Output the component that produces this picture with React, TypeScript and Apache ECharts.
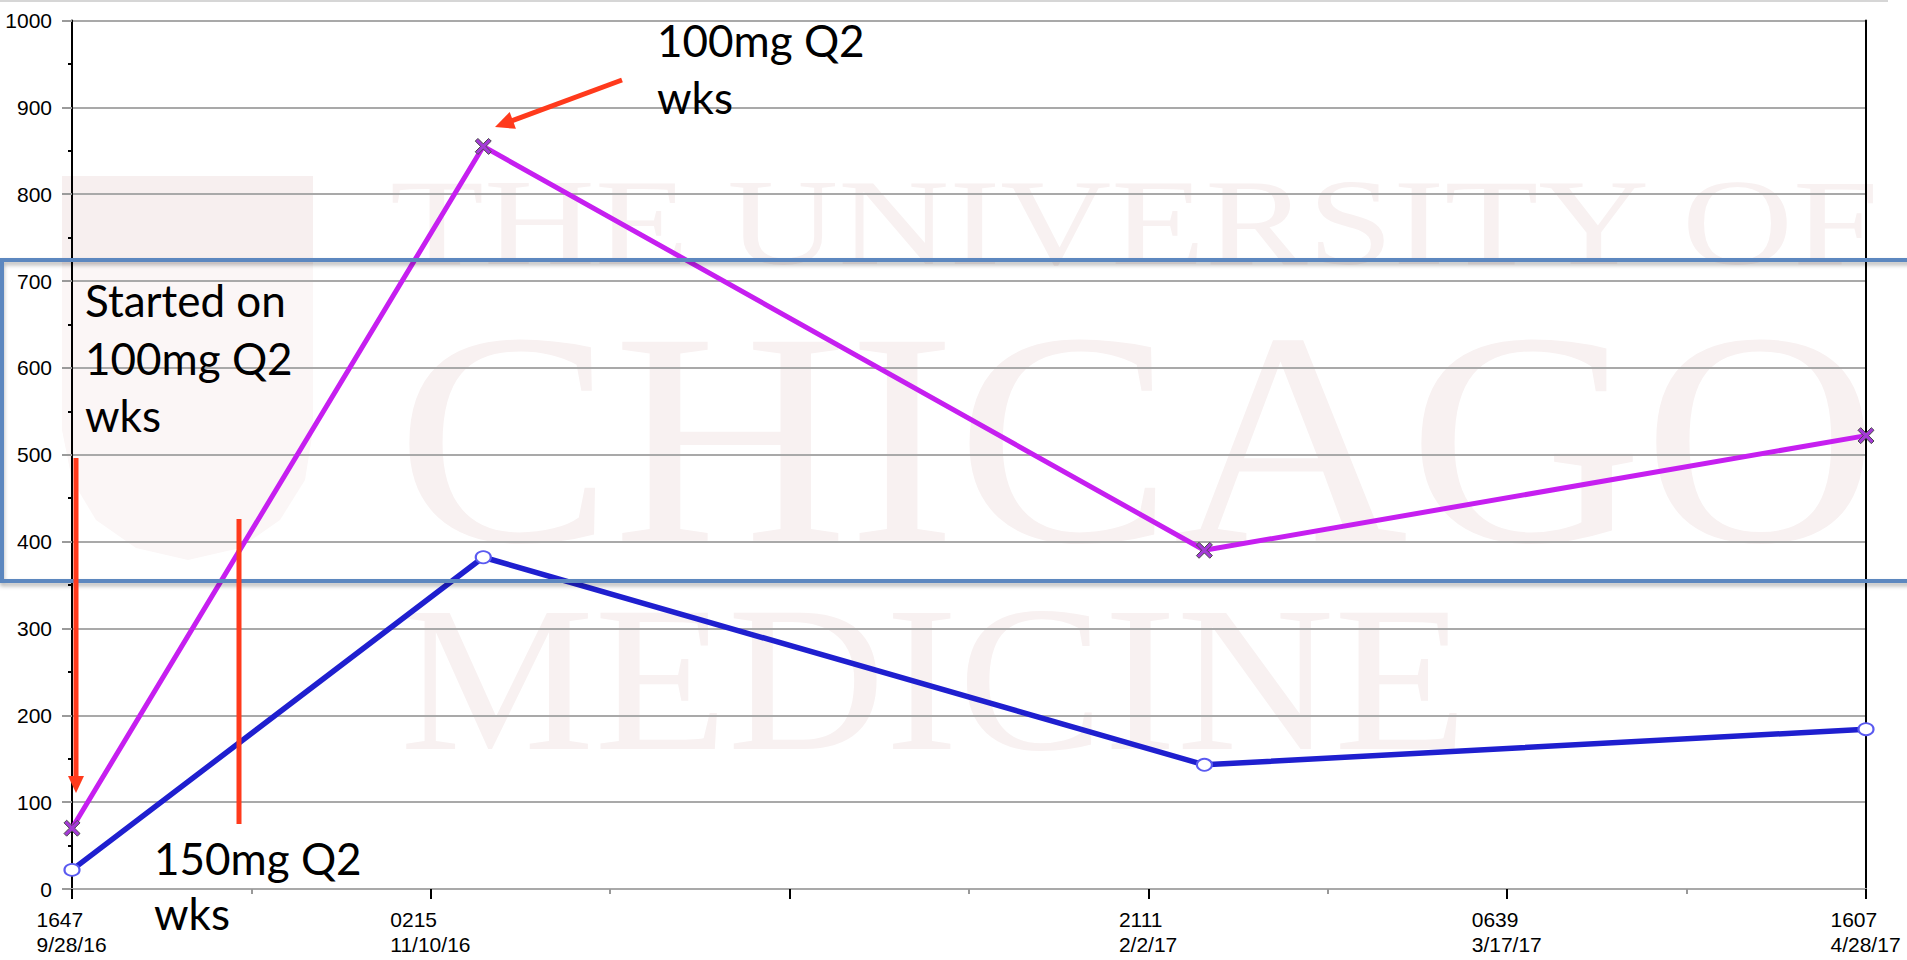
import React, { useEffect, useRef } from "react";
import * as echarts from "echarts";

// ---- data ----
const axisStart = "2016-09-28T16:47:00Z";
const axisEnd = "2017-04-28T16:07:00Z";
const sampleTimes = [
  "2016-09-28T16:47:00Z",
  "2016-11-16T07:00:00Z",
  "2017-02-09T12:00:00Z",
  "2017-04-28T16:07:00Z",
];
const purpleValues = [70, 855, 390, 522];
const blueValues = [22, 382, 143, 184];
const xTickTimes = ["1647", "0215", "", "2111", "0639", "1607"];
const xTickDates = ["9/28/16", "11/10/16", "", "2/2/17", "3/17/17", "4/28/17"];
const yMin = 0;
const yMax = 1000;
const yStep = 100;
const xSegments = 5;

const toMinutes = (s: string) => (Date.parse(s) - Date.parse(axisStart)) / 60000;

const AXIS_FONT = '"Liberation Sans", Arial, sans-serif';
const AXIS_SIZE = 21;
const NOTE_FONT = 'Lato, "Open Sans", sans-serif';
const WM_FONT = '"Liberation Serif", "DejaVu Serif", serif';
const RED = "#ff3a1c";
const WM = "#f8f1f1";

export default function App() {
  const ref = useRef<HTMLDivElement>(null);

  useEffect(() => {
    if (!ref.current) return;
    const chart = echarts.init(ref.current, undefined, { renderer: "svg" });

    const xMax = toMinutes(axisEnd);
    const xInterval = xMax / xSegments;

    const canvas = document.createElement("canvas");
    const ctx = canvas.getContext("2d")!;
    ctx.font = `${AXIS_SIZE}px ${AXIS_FONT}`;
    const rich: Record<string, any> = {};
    xTickTimes.forEach((t, i) => {
      const w = Math.ceil(Math.max(ctx.measureText(t).width, ctx.measureText(xTickDates[i]).width));
      rich["l" + i] = {
        width: w,
        align: "left",
        fontSize: AXIS_SIZE,
        lineHeight: 25,
        fontFamily: AXIS_FONT,
        color: "#000",
      };
    });

    const purpleData = sampleTimes.map((t, i) => [toMinutes(t), purpleValues[i]]);
    const blueData = sampleTimes.map((t, i) => [toMinutes(t), blueValues[i]]);

    const xPath =
      "path://M2,0 L6,4 L10,0 L12,2 L8,6 L12,10 L10,12 L6,8 L2,12 L0,10 L4,6 L0,2 Z";

    const arrowTip = [495, 127];
    const arrowStart = [622, 80];
    const dx = arrowTip[0] - arrowStart[0];
    const dy = arrowTip[1] - arrowStart[1];
    const len = Math.hypot(dx, dy);
    const ux = dx / len;
    const uy = dy / len;
    const headL = 19;
    const headW = 9;
    const bx = arrowTip[0] - ux * headL;
    const by = arrowTip[1] - uy * headL;

    const noteText = (text: string, x: number, y: number) => ({
      type: "text",
      x,
      y,
      z: 200,
      style: {
        text,
        fontFamily: NOTE_FONT,
        fontSize: 44,
        fill: "#000",
        align: "left",
        verticalAlign: "middle",
      },
    });

    const wmText = (text: string, x: number, y: number, size: number, sx: number) => ({
      type: "text",
      x,
      y,
      scaleX: sx,
      z: -10,
      silent: true,
      style: {
        text,
        fontFamily: WM_FONT,
        fontSize: size,
        fill: WM,
        align: "left",
        verticalAlign: "middle",
      },
    });

    chart.setOption({
      animation: false,
      backgroundColor: "#fff",
      grid: { left: 72, right: 41, top: 20.5, bottom: 71, containLabel: false },
      xAxis: {
        type: "value",
        min: 0,
        max: xMax,
        interval: xInterval,
        axisLine: { show: true, onZero: false, lineStyle: { color: "#a9a9a9", width: 2 } },
        axisTick: { show: true, length: 10, lineStyle: { color: "#000", width: 2 } },
        minorTick: { show: true, splitNumber: 2, length: 5, lineStyle: { color: "#999", width: 2 } },
        splitLine: { show: false },
        axisLabel: {
          margin: 18,
          showMinLabel: true,
          showMaxLabel: true,
          formatter: (val: number) => {
            const i = Math.round(val / xInterval);
            if (!xTickTimes[i]) return "";
            return `{l${i}|${xTickTimes[i]}}\n{l${i}|${xTickDates[i]}}`;
          },
          rich,
        },
      },
      yAxis: [
        {
          type: "value",
          min: yMin,
          max: yMax,
          interval: yStep,
          position: "left",
          axisLine: { show: true, lineStyle: { color: "#000", width: 2 } },
          axisTick: { show: true, length: 10, lineStyle: { color: "#9a9a9a", width: 2 } },
          minorTick: { show: true, splitNumber: 2, length: 4, lineStyle: { color: "#000", width: 2 } },
          splitLine: { show: true, lineStyle: { color: "#a9a9a9", width: 2 } },
          axisLabel: {
            margin: 20,
            fontSize: AXIS_SIZE,
            fontFamily: AXIS_FONT,
            color: "#000",
            formatter: (v: number) => String(v),
          },
        },
        {
          type: "value",
          min: yMin,
          max: yMax,
          interval: yStep,
          position: "right",
          axisLine: { show: true, lineStyle: { color: "#000", width: 2 } },
          axisTick: { show: false },
          axisLabel: { show: false },
          splitLine: { show: false },
        },
      ],
      series: [
        {
          type: "line",
          data: purpleData,
          z: 3,
          lineStyle: { color: "#c61ff0", width: 5 },
          symbol: xPath,
          symbolSize: 16,
          itemStyle: { color: "#a43bd6", borderColor: "#4a4a4a", borderWidth: 1 },
        },
        {
          type: "line",
          data: blueData,
          z: 4,
          lineStyle: { color: "#1f1fcf", width: 5.5 },
          symbol: "emptyCircle",
          symbolSize: [15, 12],
          itemStyle: { color: "#5a5af0", borderWidth: 2 },
        },
      ],
      graphic: [
        {
          type: "polygon",
          z: -11,
          silent: true,
          shape: {
            points: [
              [62, 176], [313, 176], [313, 430], [305, 480], [280, 520], [240, 548],
              [188, 560], [136, 548], [96, 520], [72, 480], [62, 430],
            ],
          },
          style: { fill: "#fbf6f6" },
        },
        {
          type: "rect",
          z: -10,
          silent: true,
          shape: { x: 62, y: 176, width: 251, height: 88 },
          style: { fill: "#f7efef" },
        },
        wmText("THE UNIVERSITY OF", 390, 223, 122, 1.26),
        wmText("CHICAGO", 396, 438, 304, 1.07),
        wmText("MEDICINE", 400, 679, 208, 1.05),
        {
          type: "line",
          z: 5,
          shape: { x1: 0, y1: 1, x2: 1888, y2: 1 },
          style: { stroke: "#d6d6d6", lineWidth: 2 },
        },
        {
          type: "rect",
          z: 150,
          shape: { x: 2, y: 260, width: 1960, height: 321 },
          style: {
            fill: "transparent",
            stroke: "#5b87bf",
            lineWidth: 4,
            shadowBlur: 4,
            shadowOffsetY: 3,
            shadowColor: "rgba(0,0,0,0.3)",
          },
        },
        {
          type: "line",
          z: 160,
          shape: { x1: 76, y1: 458, x2: 76, y2: 778 },
          style: { stroke: RED, lineWidth: 5 },
        },
        {
          type: "polygon",
          z: 160,
          shape: { points: [[68, 776], [84, 776], [76, 793]] },
          style: { fill: RED },
        },
        {
          type: "line",
          z: 160,
          shape: { x1: 239, y1: 519, x2: 239, y2: 824 },
          style: { stroke: RED, lineWidth: 5 },
        },
        {
          type: "line",
          z: 160,
          shape: { x1: arrowStart[0], y1: arrowStart[1], x2: bx + ux * 2, y2: by + uy * 2 },
          style: { stroke: RED, lineWidth: 5 },
        },
        {
          type: "polygon",
          z: 160,
          shape: {
            points: [
              arrowTip,
              [bx - uy * headW, by + ux * headW],
              [bx + uy * headW, by - ux * headW],
            ],
          },
          style: { fill: RED },
        },
        noteText("Started on", 85, 300),
        noteText("100mg Q2", 85, 358),
        noteText("wks", 85, 415),
        noteText("100mg Q2", 657, 40),
        noteText("wks", 657, 97),
        noteText("150mg Q2", 154, 858),
        noteText("wks", 154, 913),
      ],
    });

    return () => chart.dispose();
  }, []);

  return (
    <div
      ref={ref}
      style={{ position: "fixed", left: 0, top: 0, width: 1907, height: 960 }}
    />
  );
}
